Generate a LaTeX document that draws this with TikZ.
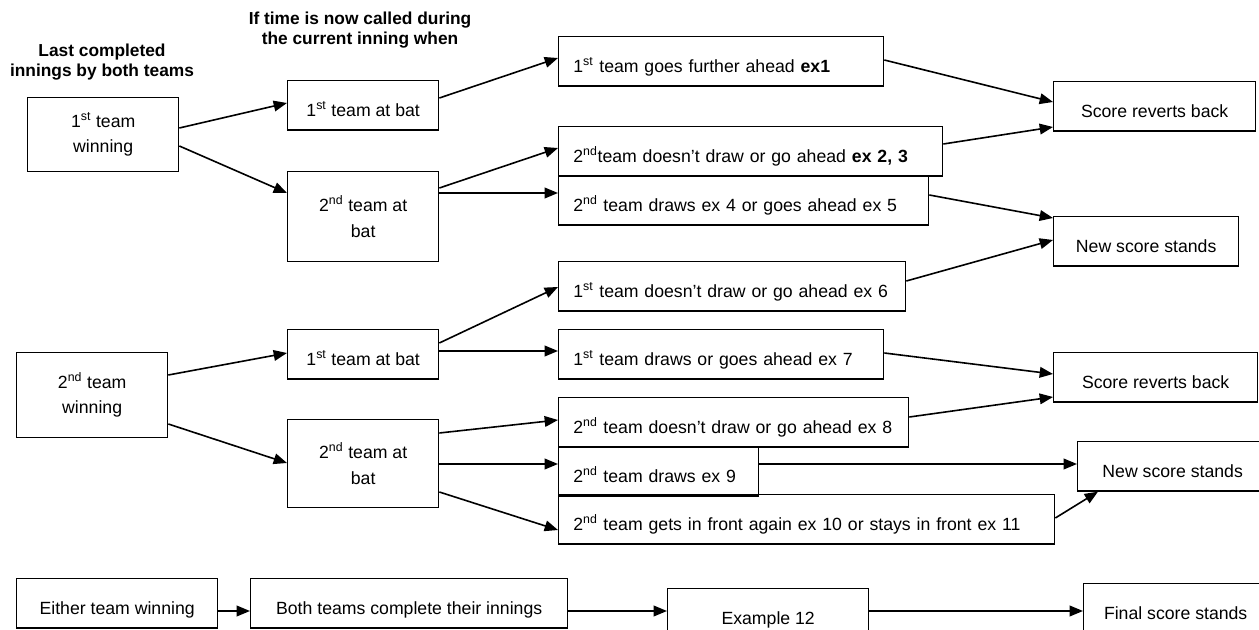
\documentclass[tikz,border=0pt]{standalone}
\usepackage{fontspec}
\setmainfont{Liberation Sans}
\usetikzlibrary{arrows.meta}

\begin{document}
\begin{tikzpicture}[x=0.75pt, y=-0.75pt,
                every node/.style={font=\fontsize{13.25}{19}\selectfont},
                box/.style={draw, line width=1pt, anchor=north west, inner sep=0pt, align=center},
                cbox/.style={box, minimum width=#1, minimum height=37pt, text height=19pt, text depth=2pt},
                left_box/.style={box, inner xsep=11pt, text width=#1, minimum height=37pt, align=left, text height=19pt, text depth=2pt},
                title_style/.style={font=\fontsize{13}{14.5}\selectfont\bfseries, align=center},
                edge_style/.style={draw=black, line width=1.2pt, -{Triangle[length=10pt,width=8pt]}}]
                \useasboundingbox (0,0) rectangle (1259,630);
                \node [title_style] (last) at (102,62) {Last completed\\innings by both teams};
                \node [title_style] (called) at (360,30) {If time is now called during\\the current inning when};
                \node [box, minimum width=113.25pt, minimum height=55.5pt] (win1) at (27,97) {1\textsuperscript{st} team\\winning};
                \node [box, minimum width=113.25pt, minimum height=63.75pt] (win2) at (16,352) {2\textsuperscript{nd} team\\winning};
                \node [cbox=113.25pt] (bat11) at (287,80) {1\textsuperscript{st} team at bat};
                \node [box, minimum width=113.25pt, minimum height=67.5pt] (bat12) at (287,171) {2\textsuperscript{nd} team at\\bat};
                \node [cbox=113.25pt] (bat21) at (287,329) {1\textsuperscript{st} team at bat};
                \node [box, minimum width=113.25pt, minimum height=66pt] (bat22) at (287,419) {2\textsuperscript{nd} team at\\bat};
                \node [left_box=221.75pt] (res1) at (558,36) {1\textsuperscript{st} team goes further ahead \textbf{ex1}};
                \node [left_box=266pt] (res2) at (558,126) {2\textsuperscript{nd}team doesn't draw or go ahead \textbf{ex 2, 3}};
                \node [left_box=255.5pt] (res3) at (558,175) {2\textsuperscript{nd} team draws ex 4 or goes ahead ex 5};
                \node [left_box=238.25pt] (res4) at (558,261) {1\textsuperscript{st} team doesn't draw or go ahead ex 6};
                \node [left_box=221.75pt] (res5) at (558,329) {1\textsuperscript{st} team draws or goes ahead ex 7};
                \node [left_box=240.5pt] (res6) at (558,397) {2\textsuperscript{nd} team doesn't draw or go ahead ex 8};
                \node [left_box=128pt] (res7) at (558,446) {2\textsuperscript{nd} team draws ex 9};
                \node [left_box=350pt] (res8) at (558,494) {2\textsuperscript{nd} team gets in front again ex 10 or stays in front ex 11};
                \node [cbox=151.5pt] (back1) at (1053,81) {Score reverts back};
                \node [cbox=138.75pt] (new1) at (1053,216) {New score stands};
                \node [cbox=153pt] (back2) at (1053,352) {Score reverts back};
                \node [cbox=142.5pt] (new2) at (1077,441) {New score stands};
                \node [cbox=150.75pt] (either) at (16,578) {Either team winning};
                \node [cbox=237.75pt] (both) at (250,578) {Both teams complete their innings};
                \node [cbox=150.75pt] (ex12) at (667,588) {Example 12};
                \node [cbox=138pt] (final) at (1083,583) {Final score stands};
                \draw [edge_style] ([yshift=-23.25pt]win1.north east) -- ([yshift=-17.25pt]bat11.north west);
                \draw [edge_style] ([yshift=-36.75pt]win1.north east) -- ([yshift=-16.5pt]bat12.north west);
                \draw [edge_style] ([yshift=-17.25pt]win2.north east) -- ([yshift=-18pt]bat21.north west);
                \draw [edge_style] ([yshift=-54pt]win2.north east) -- ([yshift=-33pt]bat22.north west);
                \draw [edge_style] ([yshift=-13.5pt]bat11.north east) -- ([yshift=-16.5pt]res1.north west);
                \draw [edge_style] ([yshift=-12.75pt]bat12.north east) -- ([yshift=-16.5pt]res2.north west);
                \draw [edge_style] ([yshift=-16.5pt]bat12.north east) -- ([yshift=-13.5pt]res3.north west);
                \draw [edge_style] ([yshift=-10.5pt]bat21.north east) -- ([yshift=-19.5pt]res4.north west);
                \draw [edge_style] ([yshift=-16.5pt]bat21.north east) -- ([yshift=-16.5pt]res5.north west);
                \draw [edge_style] ([yshift=-10.5pt]bat22.north east) -- ([yshift=-17.25pt]res6.north west);
                \draw [edge_style] ([yshift=-33.75pt]bat22.north east) -- ([yshift=-13.5pt]res7.north west);
                \draw [edge_style] ([yshift=-54.75pt]bat22.north east) -- ([yshift=-27pt]res8.north west);
                \draw [edge_style] ([yshift=-18pt]res1.north east) -- ([yshift=-15.75pt]back1.north west);
                \draw [edge_style] ([yshift=-13.5pt]res2.north east) -- ([yshift=-34.5pt]back1.north west);
                \draw [edge_style] ([yshift=-15pt]res3.north east) -- ([yshift=-1.5pt]new1.north west);
                \draw [edge_style] ([yshift=-15pt]res4.north east) -- ([yshift=-18pt]new1.north west);
                \draw [edge_style] ([yshift=-18pt]res5.north east) -- ([yshift=-16.5pt]back2.north west);
                \draw [edge_style] ([yshift=-15pt]res6.north east) -- ([yshift=-33.75pt]back2.north west);
                \draw [edge_style] ([yshift=-13.5pt]res7.north east) -- ([yshift=-17.25pt]new2.north west);
                \draw [edge_style] ([yshift=-18pt]res8.north east) -- ([xshift=15.75pt]new2.south west);
                \draw [edge_style] ([yshift=-24.75pt]either.north east) -- ([yshift=-24.75pt]both.north west);
                \draw [edge_style] ([yshift=-24.75pt]both.north east) -- ([yshift=-17.25pt]ex12.north west);
                \draw [edge_style] ([yshift=-17.25pt]ex12.north east) -- ([yshift=-21pt]final.north west);
\end{tikzpicture}
\end{document}
